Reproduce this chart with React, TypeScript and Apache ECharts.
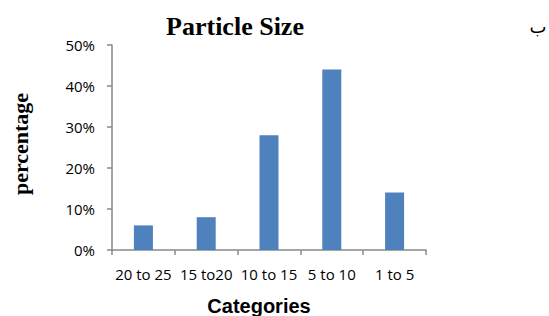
import React, { useEffect, useRef } from "react";
import * as echarts from "echarts";

const categories = ["20 to 25", "15 to20", "10 to 15", "5 to 10", "1 to 5"];
const percentages = [6, 8, 28, 44, 14];
const yTicks = [0, 10, 20, 30, 40, 50];

export default function App() {
  const ref = useRef<HTMLDivElement>(null);
  useEffect(() => {
    const chart = echarts.init(ref.current!, null, { renderer: "svg" });
    const axisColor = "#898989";
    chart.setOption({
      animation: false,
      grid: { left: 112, right: 123, top: 45, bottom: 66, containLabel: false },
      xAxis: {
        type: "category",
        data: categories,
        axisLine: { lineStyle: { color: axisColor, width: 1.5 } },
        axisTick: { show: true, length: 5, lineStyle: { color: axisColor, width: 1.5 } },
        axisLabel: {
          interval: 0,
          color: "#000",
          fontFamily: "Open Sans",
          fontSize: 15,
          margin: 16,
        },
      },
      yAxis: {
        type: "value",
        min: yTicks[0],
        max: yTicks[yTicks.length - 1],
        interval: 10,
        splitLine: { show: false },
        axisLine: { show: true, lineStyle: { color: axisColor, width: 1.5 } },
        axisTick: { show: true, length: 5, lineStyle: { color: axisColor, width: 1.5 } },
        axisLabel: {
          formatter: "{value}%",
          color: "#000",
          fontFamily: "Open Sans",
          fontSize: 15,
          margin: 17,
        },
      },
      series: [
        {
          type: "bar",
          data: percentages,
          barWidth: 19,
          itemStyle: { color: "#4F81BD" },
        },
      ],
      graphic: [
        {
          type: "text",
          x: 235,
          y: 26,
          style: {
            text: "Particle Size",
            fontFamily: "Liberation Serif",
            fontWeight: "bold",
            fontSize: 26,
            fill: "#000",
            align: "center",
            verticalAlign: "middle",
          },
        },
        {
          type: "text",
          x: 538,
          y: 26,
          style: {
            text: "ب",
            fontFamily: "DejaVu Sans",
            fontSize: 18,
            fill: "#000",
            align: "center",
            verticalAlign: "middle",
          },
        },
        {
          type: "text",
          x: 20,
          y: 144,
          rotation: Math.PI / 2,
          style: {
            text: "percentage",
            fontFamily: "Liberation Serif",
            fontWeight: "bold",
            fontSize: 22,
            fill: "#000",
            align: "center",
            verticalAlign: "middle",
          },
        },
        {
          type: "text",
          x: 259,
          y: 306,
          style: {
            text: "Categories",
            fontFamily: "Liberation Sans",
            fontWeight: "bold",
            fontSize: 20,
            fill: "#000",
            align: "center",
            verticalAlign: "middle",
          },
        },
      ],
    });
    return () => chart.dispose();
  }, []);
  return <div ref={ref} style={{ width: 549, height: 316, position: "absolute", left: 0, top: 0 }} />;
}
